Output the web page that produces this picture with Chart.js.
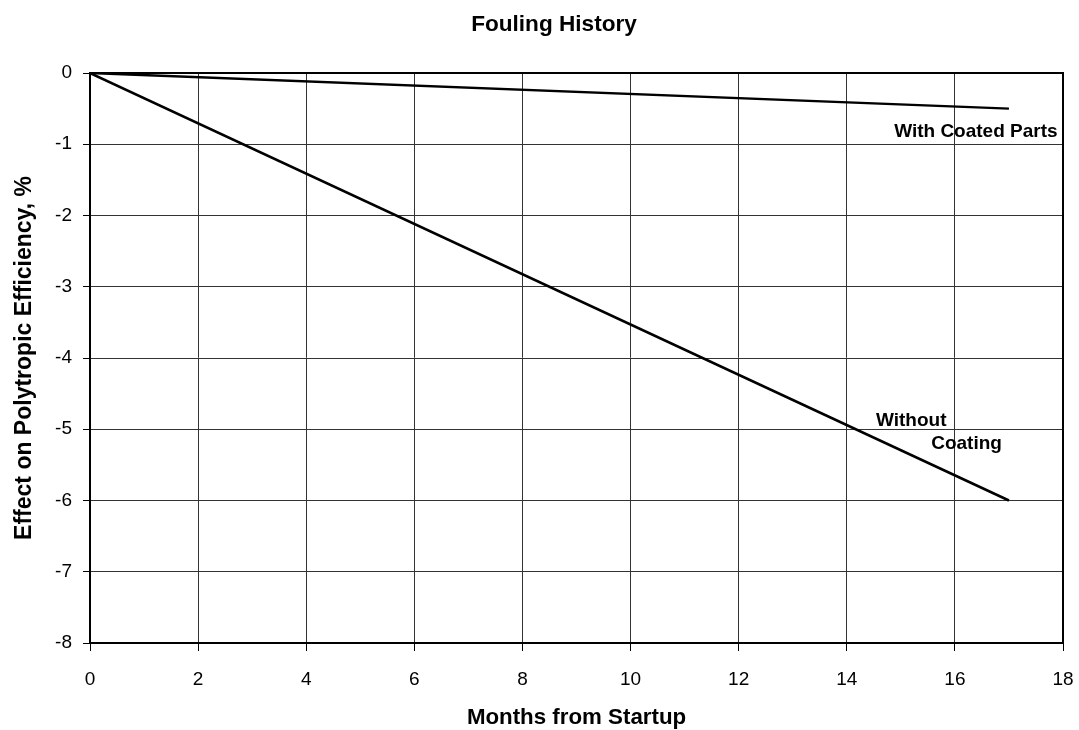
<!DOCTYPE html>
<html>
<head>
<meta charset="utf-8">
<title>Fouling History</title>
<script src="https://cdn.jsdelivr.net/npm/chart.js@4.4.0/dist/chart.umd.min.js"></script>
<style>
    html, body { margin: 0; padding: 0; background: #ffffff; }
    #wrap { width: 1079px; height: 730px; }
</style>
</head>
<body>
<div id="wrap"><canvas id="foulingChart" width="1079" height="730"></canvas></div>
<script>
// Chart data
const months = [0, 17];
const withCoating = [0, -0.5];
const withoutCoating = [0, -6];
const xTicks = [0, 2, 4, 6, 8, 10, 12, 14, 16, 18];
const yTicks = [0, -1, -2, -3, -4, -5, -6, -7, -8];

const chartTitle = 'Fouling History';
const xTitle = 'Months from Startup';
const yTitle = 'Effect on Polytropic Efficiency, %';

// In-plot labels, anchored in data units
const notes = [
    { text: 'With Coated Parts', x: 17.9, y: -0.83, align: 'right' },
    { text: 'Without', x: 14.54, y: -4.88, align: 'left' },
    { text: 'Coating', x: 16.87, y: -5.21, align: 'right' }
];

const FONT = '"Liberation Sans", Arial, Helvetica, sans-serif';

function toPoints(xs, ys) {
    return xs.map((x, i) => ({ x: x, y: ys[i] }));
}

// Draws the page title, the frame round the plot and the line labels
const decorPlugin = {
    id: 'decor',
    afterDraw(chart) {
        const ctx = chart.ctx;
        const area = chart.chartArea;
        const xs = chart.scales.x;
        const ys = chart.scales.y;
        ctx.save();

        ctx.strokeStyle = '#000000';
        ctx.lineWidth = 2;
        ctx.strokeRect(area.left, area.top, area.right - area.left, area.bottom - area.top);

        ctx.fillStyle = '#000000';
        ctx.font = 'bold 22.6px ' + FONT;
        ctx.textAlign = 'center';
        ctx.textBaseline = 'alphabetic';
        ctx.fillText(chartTitle, 554, 31);

        ctx.font = 'bold 19px ' + FONT;
        ctx.textBaseline = 'middle';
        notes.forEach(n => {
            ctx.textAlign = n.align;
            ctx.fillText(n.text, xs.getPixelForValue(n.x), ys.getPixelForValue(n.y));
        });
        ctx.restore();
    }
};

const ctx = document.getElementById('foulingChart');

new Chart(ctx, {
    type: 'line',
    data: {
        datasets: [
            {
                label: 'With Coated Parts',
                data: toPoints(months, withCoating),
                borderColor: '#000000',
                borderWidth: 2.5,
                pointRadius: 0,
                tension: 0
            },
            {
                label: 'Without Coating',
                data: toPoints(months, withoutCoating),
                borderColor: '#000000',
                borderWidth: 2.5,
                pointRadius: 0,
                tension: 0
            }
        ]
    },
    options: {
        responsive: false,
        animation: false,
        layout: {
            padding: { top: 73, right: 16, bottom: 0, left: 0 }
        },
        scales: {
            x: {
                type: 'linear',
                min: 0,
                max: 18,
                afterFit: function(scale) {
                    scale.height = 87;
                    scale.paddingRight = 0;
                    scale.paddingLeft = 0;
                },
                afterBuildTicks: function(scale) {
                    scale.ticks = xTicks.map(v => ({ value: v }));
                },
                grid: {
                    color: '#333333',
                    lineWidth: 1,
                    tickLength: 8,
                    tickColor: '#000000'
                },
                border: { color: '#000000', width: 2 },
                ticks: {
                    color: '#000000',
                    padding: 17,
                    maxRotation: 0,
                    font: { size: 19, family: FONT }
                },
                title: {
                    display: true,
                    text: xTitle,
                    color: '#000000',
                    padding: { top: 0, bottom: 1 },
                    font: { size: 22.3, weight: 'bold', family: FONT, lineHeight: 1 }
                }
            },
            y: {
                type: 'linear',
                min: -8,
                max: 0,
                afterFit: function(scale) { scale.width = 90; },
                afterBuildTicks: function(scale) {
                    scale.ticks = yTicks.map(v => ({ value: v }));
                },
                grid: {
                    color: '#333333',
                    lineWidth: 1,
                    tickLength: 7,
                    tickColor: '#000000'
                },
                border: { color: '#000000', width: 2 },
                ticks: {
                    color: '#000000',
                    padding: 11,
                    font: { size: 19, family: FONT }
                },
                title: {
                    display: true,
                    text: yTitle,
                    color: '#000000',
                    padding: { top: 13, bottom: 0 },
                    font: { size: 23, weight: 'bold', family: FONT, lineHeight: 1 }
                }
            }
        },
        plugins: {
            legend: { display: false },
            title: { display: false },
            tooltip: { enabled: false }
        }
    },
    plugins: [decorPlugin]
});
</script>
</body>
</html>
